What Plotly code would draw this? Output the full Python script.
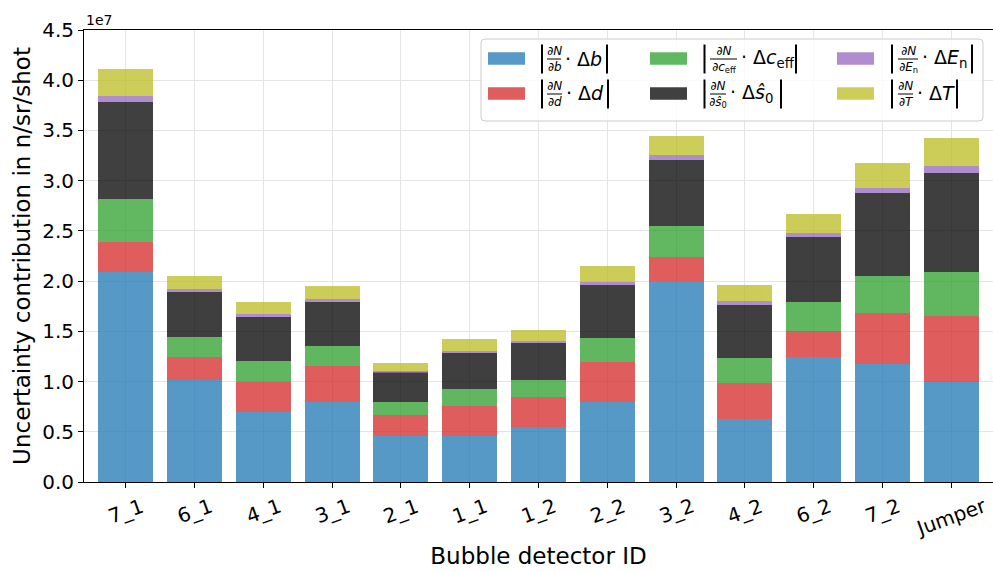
import plotly.graph_objects as go

# ---------------- data (units of 1e7 n/sr/shot) ----------------
detectors = ["7_1", "6_1", "4_1", "3_1", "2_1", "1_1", "1_2", "2_2", "3_2", "4_2", "6_2", "7_2", "Jumper"]
contrib_b = [2.09, 1.02, 0.70, 0.80, 0.46, 0.46, 0.55, 0.80, 2.00, 0.63, 1.245, 1.175, 1.00]
contrib_d = [0.30, 0.22, 0.30, 0.35, 0.205, 0.30, 0.295, 0.39, 0.245, 0.36, 0.26, 0.51, 0.65]
contrib_ceff = [0.43, 0.20, 0.20, 0.20, 0.136, 0.165, 0.17, 0.24, 0.30, 0.24, 0.29, 0.37, 0.44]
contrib_s0 = [0.96, 0.45, 0.44, 0.44, 0.29, 0.36, 0.365, 0.53, 0.66, 0.53, 0.64, 0.82, 0.99]
contrib_En = [0.06, 0.03, 0.03, 0.03, 0.017, 0.024, 0.022, 0.03, 0.046, 0.04, 0.04, 0.056, 0.07]
contrib_T = [0.27, 0.13, 0.12, 0.13, 0.08, 0.11, 0.11, 0.156, 0.19, 0.16, 0.19, 0.24, 0.27]
y_ticks = [0.0, 0.5, 1.0, 1.5, 2.0, 2.5, 3.0, 3.5, 4.0, 4.5]

series_names = ["|∂N/∂b · Δb|", "|∂N/∂d · Δd|", "|∂N/∂c_eff · Δc_eff|",
                "|∂N/∂ŝ0 · Δŝ0|", "|∂N/∂E_n · ΔE_n|", "|∂N/∂T · ΔT|"]
series_values = [contrib_b, contrib_d, contrib_ceff, contrib_s0, contrib_En, contrib_T]
series_colors = ["#1f77b4", "#d62728", "#2ca02c", "#000000", "#9467bd", "#bcbd22"]
den_texts = ["<i>∂b</i>", "<i>∂d</i>", "<i>∂c</i><sub>eff</sub>", "<i>∂ŝ</i><sub>0</sub>",
             "<i>∂E</i><sub>n</sub>", "<i>∂T</i>"]
rest_texts = ["· Δ<i>b</i>", "· Δ<i>d</i>", "· Δ<i>c</i><sub>eff</sub>", "· Δ<i>ŝ</i><sub>0</sub>",
              "· Δ<i>E</i><sub>n</sub>", "· Δ<i>T</i>"]

FONT = "DejaVu Sans"
W, H = 993, 572
ML, MR, MT, MB = 84, 0, 30, 90
PW, PH = W - ML - MR, H - MT - MB


def px(x):
    return (x - ML) / PW


def py(y):
    return (H - MB - y) / PH


fig = go.Figure()
for name, vals, col in zip(series_names, series_values, series_colors):
    fig.add_trace(go.Bar(x=detectors, y=vals, name=name, marker=dict(color=col, line=dict(width=0)),
                         opacity=0.75, width=0.8, showlegend=False))

annotations = []
shapes = []

# x tick labels (rotated, centred on ticks like the original)
for cat in detectors:
    annotations.append(dict(x=cat, xref="x", y=0, yref="paper", yshift=-9, text=cat,
                            showarrow=False, textangle=-20, xanchor="center", yanchor="top",
                            font=dict(size=20, color="black", family=FONT)))

# offset text
annotations.append(dict(x=0, xref="paper", y=1, yref="paper", yshift=0, text="1e7", showarrow=False,
                        xanchor="left", yanchor="bottom", font=dict(size=14, color="black", family=FONT)))

# ---------------- legend (drawn manually to mimic mathtext) ----------------
lx0, lx1, ly0, ly1 = 481, 983, 39, 121
r = 4
path = (f"M{px(lx0 + r)},{py(ly0)} L{px(lx1 - r)},{py(ly0)} Q{px(lx1)},{py(ly0)} {px(lx1)},{py(ly0 + r)} "
        f"L{px(lx1)},{py(ly1 - r)} Q{px(lx1)},{py(ly1)} {px(lx1 - r)},{py(ly1)} "
        f"L{px(lx0 + r)},{py(ly1)} Q{px(lx0)},{py(ly1)} {px(lx0)},{py(ly1 - r)} "
        f"L{px(lx0)},{py(ly0 + r)} Q{px(lx0)},{py(ly0)} {px(lx0 + r)},{py(ly0)} Z")
shapes.append(dict(type="path", xref="paper", yref="paper", path=path, layer="above",
                   fillcolor="rgba(255,255,255,0.8)", line=dict(color="#cccccc", width=1)))

# (series idx, patch x0, row centre y, left bar x, frac x0, frac x1, rest x, right bar x)
legend_layout = [
    (0, 488, 58.5, 542, 547, 561, 563, 607),
    (1, 488, 93.5, 542, 547, 562, 564, 608),
    (2, 650, 58.5, 704.5, 710, 737, 739, 796),
    (3, 650, 93.5, 704.5, 710, 726, 728, 781),
    (4, 837, 58.5, 892, 898, 918, 920, 972),
    (5, 837, 93.5, 892, 898, 913, 915, 957),
]
for idx, pxx, cy, lb, f0, f1, rx, rb in legend_layout:
    shapes.append(dict(type="rect", xref="paper", yref="paper", layer="above",
                       x0=px(pxx), x1=px(pxx + 37), y0=py(cy - 6.2), y1=py(cy + 6.2),
                       fillcolor=series_colors[idx], opacity=0.75, line=dict(width=0)))
    for bx in (lb, rb):
        shapes.append(dict(type="line", xref="paper", yref="paper", layer="above",
                           x0=px(bx), x1=px(bx), y0=py(cy - 14), y1=py(cy + 15),
                           line=dict(color="black", width=2)))
    shapes.append(dict(type="line", xref="paper", yref="paper", layer="above",
                       x0=px(f0), x1=px(f1), y0=py(cy + 0.5), y1=py(cy + 0.5),
                       line=dict(color="black", width=1)))
    annotations.append(dict(x=px((f0 + f1) / 2), y=py(cy + 0.5), xref="paper", yref="paper",
                            text="<i>∂N</i><br>" + den_texts[idx], showarrow=False,
                            xanchor="center", yanchor="middle", align="center",
                            font=dict(size=12, color="black", family=FONT)))
    annotations.append(dict(x=px(rx), y=py(cy), xref="paper", yref="paper", text=rest_texts[idx],
                            showarrow=False, xanchor="left", yanchor="middle",
                            font=dict(size=19, color="black", family=FONT)))

fig.update_layout(
    barmode="stack",
    width=W, height=H,
    margin=dict(l=ML, r=MR, t=MT, b=MB),
    paper_bgcolor="white", plot_bgcolor="white",
    font=dict(family=FONT, color="black"),
    showlegend=False,
    annotations=annotations,
    shapes=shapes,
)
fig.update_xaxes(
    type="category", range=[-0.61, 12.61],
    showgrid=True, gridcolor="#e4e4e4", gridwidth=1,
    ticks="outside", ticklen=5, tickcolor="black", showticklabels=False,
    showline=True, linecolor="black", linewidth=1, mirror=True,
    title=dict(text="Bubble detector ID", font=dict(size=23, family=FONT), standoff=60),
)
fig.update_yaxes(
    range=[0, 4.5], tickvals=y_ticks, ticktext=[f"{v:.1f}" for v in y_ticks],
    showgrid=True, gridcolor="#e4e4e4", gridwidth=1, zeroline=False,
    ticks="outside", ticklen=5, tickcolor="black", tickfont=dict(size=20),
    showline=True, linecolor="black", linewidth=1, mirror=True,
    title=dict(text="Uncertainty contribution in n/sr/shot", font=dict(size=23, family=FONT), standoff=5),
)

fig.write_html("out.html")
